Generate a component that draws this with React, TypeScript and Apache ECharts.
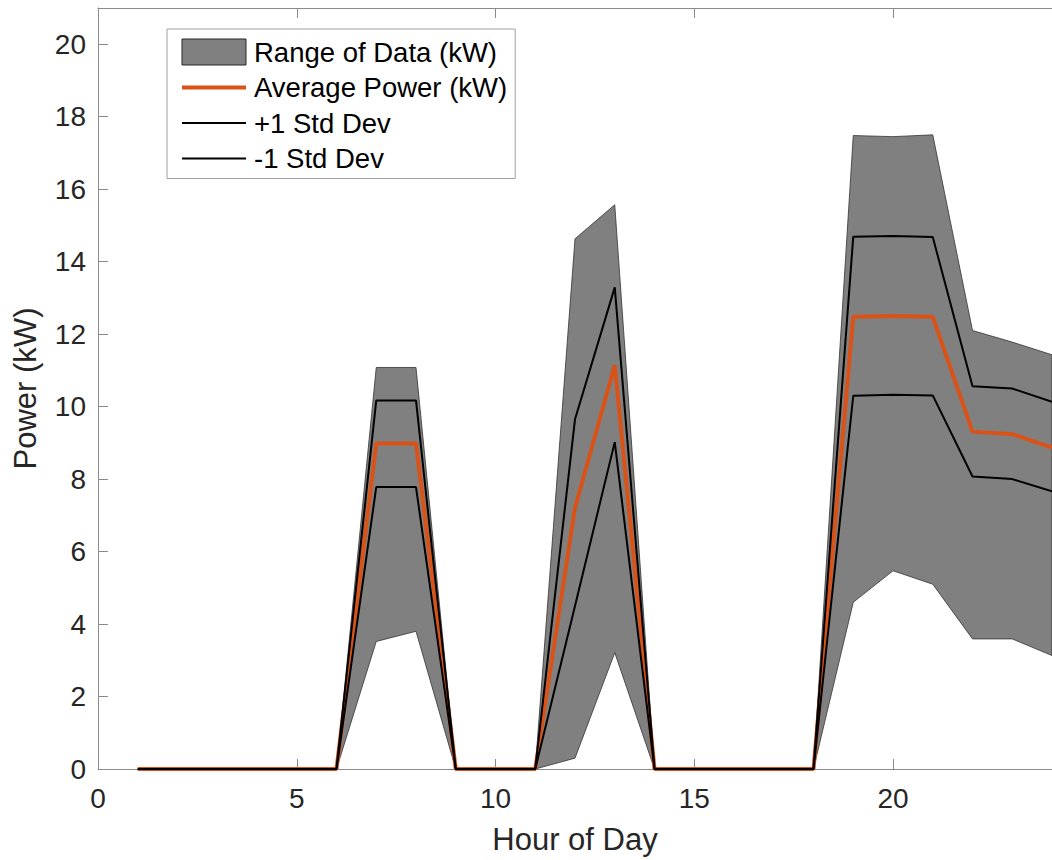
import React, { useEffect, useRef } from "react";
import * as echarts from "echarts";

const hours = [1, 2, 3, 4, 5, 6, 7, 8, 9, 10, 11, 12, 13, 14, 15, 16, 17, 18, 19, 20, 21, 22, 23, 24];
const rangeMax = [0, 0, 0, 0, 0, 0, 11.08, 11.08, 0, 0, 0, 14.63, 15.57, 0, 0, 0, 0, 0, 17.48, 17.45, 17.5, 12.1, 11.78, 11.43];
const rangeMin = [0, 0, 0, 0, 0, 0, 3.52, 3.8, 0, 0, 0, 0.3, 3.21, 0, 0, 0, 0, 0, 4.6, 5.47, 5.1, 3.59, 3.59, 3.13];
const avgPower = [0, 0, 0, 0, 0, 0, 8.98, 8.98, 0, 0, 0, 7.21, 11.14, 0, 0, 0, 0, 0, 12.48, 12.5, 12.48, 9.31, 9.24, 8.87];
const plusStd = [0, 0, 0, 0, 0, 0, 10.17, 10.17, 0, 0, 0, 9.65, 13.29, 0, 0, 0, 0, 0, 14.69, 14.71, 14.68, 10.56, 10.5, 10.13];
const minusStd = [0, 0, 0, 0, 0, 0, 7.78, 7.78, 0, 0, 0, 4.5, 9.02, 0, 0, 0, 0, 0, 10.3, 10.33, 10.31, 8.07, 8.0, 7.66];

const xTicksInterval = 5;
const yTicksInterval = 2;

const FONT = "'Liberation Sans', Arial, Helvetica, sans-serif";
const AXIS_COLOR = "#8a8a8a";
const ORANGE = "#D95319";

export default function App() {
  const ref = useRef<HTMLDivElement>(null);
  useEffect(() => {
    if (!ref.current) return;
    const chart = echarts.init(ref.current, null, { renderer: "svg" });
    const pair = (arr: number[]) => hours.map((h, i) => [h, arr[i]]);
    const axisCommon = {
      type: "value",
      axisLine: { show: true, lineStyle: { color: AXIS_COLOR, width: 1 } },
      axisTick: { show: true, inside: true, length: 10, lineStyle: { color: AXIS_COLOR, width: 1 } },
      splitLine: { show: false },
    };
    const lineLegendStyle = { opacity: 0 };
    chart.setOption({
      animation: false,
      backgroundColor: "#ffffff",
      grid: { left: 98, top: 8, right: -14, bottom: 89, containLabel: false },
      xAxis: [
        {
          ...axisCommon,
          position: "bottom",
          min: 0,
          max: 24,
          interval: xTicksInterval,
          name: "Hour of Day",
          nameLocation: "middle",
          nameGap: 55,
          nameTextStyle: { fontSize: 31, fontFamily: FONT, color: "#262626" },
          axisLabel: { fontSize: 28, fontFamily: FONT, color: "#262626", margin: 15, showMaxLabel: false },
        },
        {
          ...axisCommon,
          position: "top",
          min: 0,
          max: 24,
          interval: xTicksInterval,
          axisLabel: { show: false },
        },
      ],
      yAxis: [
        {
          ...axisCommon,
          position: "left",
          min: 0,
          max: 21,
          interval: yTicksInterval,
          name: "Power (kW)",
          nameLocation: "middle",
          nameGap: 57,
          nameTextStyle: { fontSize: 31, fontFamily: FONT, color: "#262626" },
          axisLabel: { fontSize: 28, fontFamily: FONT, color: "#262626", margin: 12, showMaxLabel: false },
        },
      ],
      legend: {
        orient: "vertical",
        left: 167,
        top: 29,
        backgroundColor: "#ffffff",
        borderColor: "#a0a0a0",
        borderWidth: 1,
        borderRadius: 0,
        padding: [9, 8, 6, 13],
        itemWidth: 64,
        itemHeight: 26,
        itemGap: 7.5,
        selectedMode: false,
        textStyle: { fontSize: 27.5, lineHeight: 26, fontFamily: FONT, color: "#000000", padding: [0, 0, 0, 3] },
        data: [
          {
            name: "Range of Data (kW)",
            icon: "rect",
            itemStyle: { color: "#808080", borderColor: "#262626", borderWidth: 1 },
          },
          { name: "Average Power (kW)", itemStyle: lineLegendStyle, lineStyle: { width: 4, color: ORANGE } },
          { name: "+1 Std Dev", itemStyle: lineLegendStyle, lineStyle: { width: 2, color: "#000000" } },
          { name: "-1 Std Dev", itemStyle: lineLegendStyle, lineStyle: { width: 2, color: "#000000" } },
        ],
      },
      series: [
        {
          name: "Range of Data (kW)",
          type: "custom",
          silent: true,
          itemStyle: { color: "#808080" },
          data: hours.map((h, i) => [h, rangeMin[i], rangeMax[i]]),
          encode: { x: 0, y: [1, 2] },
          z: 1,
          renderItem: (params: any, api: any) => {
            if (params.dataIndex !== 0) return { type: "group", children: [] };
            const top = hours.map((h, i) => api.coord([h, rangeMax[i]]));
            const bottom = hours.map((h, i) => api.coord([h, rangeMin[i]])).reverse();
            return {
              type: "polygon",
              shape: { points: top.concat(bottom) },
              style: { fill: "#808080", stroke: "#333333", lineWidth: 0.8 },
            };
          },
        },
        {
          name: "Average Power (kW)",
          type: "line",
          data: pair(avgPower),
          symbol: "none",
          itemStyle: { color: ORANGE },
          lineStyle: { color: ORANGE, width: 4 },
          z: 2,
        },
        {
          name: "+1 Std Dev",
          type: "line",
          data: pair(plusStd),
          symbol: "none",
          itemStyle: { color: "#000000" },
          lineStyle: { color: "#000000", width: 2 },
          z: 3,
        },
        {
          name: "-1 Std Dev",
          type: "line",
          data: pair(minusStd),
          symbol: "none",
          itemStyle: { color: "#000000" },
          lineStyle: { color: "#000000", width: 2 },
          z: 3,
        },
      ],
    });
    return () => chart.dispose();
  }, []);
  return (
    <div
      ref={ref}
      style={{ position: "absolute", left: 0, top: 0, width: 1052, height: 860, overflow: "hidden" }}
    />
  );
}
